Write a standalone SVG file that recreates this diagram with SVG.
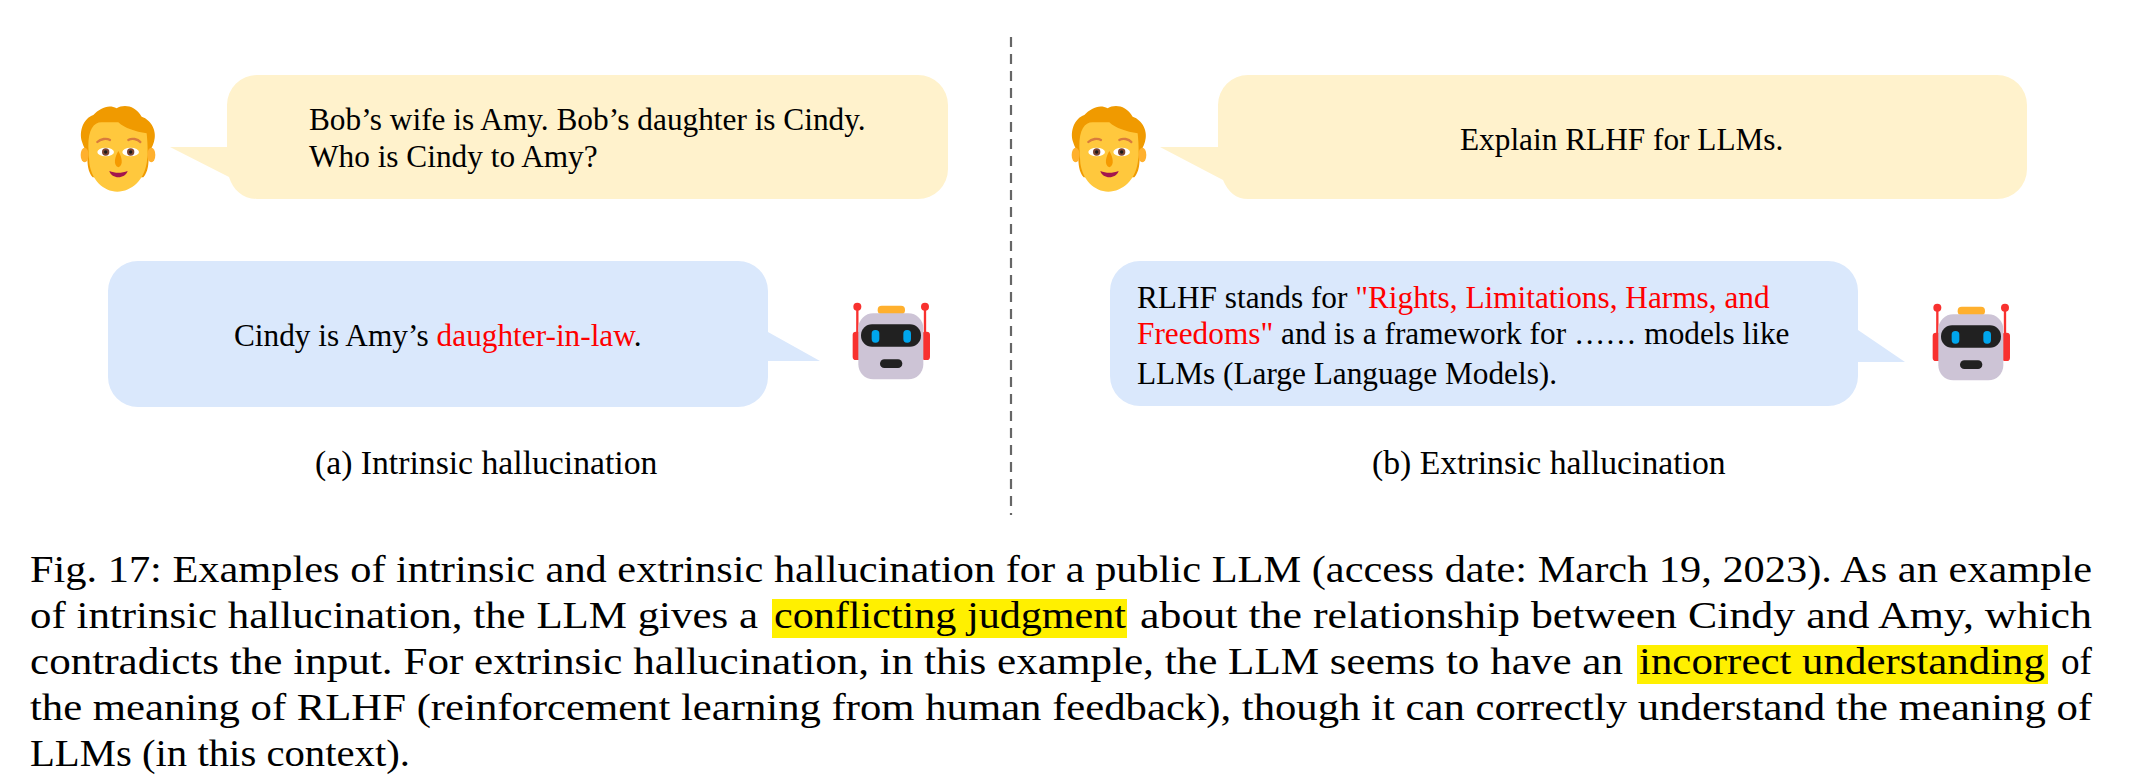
<svg xmlns="http://www.w3.org/2000/svg" xmlns:xlink="http://www.w3.org/1999/xlink" width="2140" height="783" viewBox="0 0 2140 783">
<style>
text{font-family:"Liberation Serif","Times New Roman",serif;fill:#000}
.t{font-size:31.3px}
.k{font-size:33.7px}
.c{font-size:38px}
.r{fill:#f00}
.y{fill:#FFF2CC}
.b{fill:#DAE8FC}
.hl{fill:#FFF000}
.red{fill:#F8312F}
.dk{fill:#212121}
.div{stroke:#666;stroke-width:2.2;stroke-dasharray:10 7;fill:none}
</style>
<defs>
<g id="person" transform="scale(0.3333)">
<path d="M100 75C120 55 145 42 170 55C190 42 225 45 245 80C275 90 292 125 282 155C278 170 270 180 266 195C266 225 264 245 250 262L98 262C84 245 82 225 82 195C78 180 70 170 66 155C56 125 70 85 100 75Z" fill="#F09A00"/>
<ellipse cx="74" cy="195" rx="12" ry="22" fill="#FFB02E"/><ellipse cx="274" cy="195" rx="12" ry="22" fill="#FFB02E"/>
<path d="M85 170C85 120 100 97 125 97L175 97C195 115 225 125 260 130C264 170 264 200 260 220C252 270 215 305 172 305C130 305 95 270 88 220Z" fill="#FFC83D"/>
<path d="M112 156C122 146 140 144 150 150M205 150C215 144 233 146 241 156" fill="none" stroke="#D97B3C" stroke-width="7" stroke-linecap="round"/>
<ellipse cx="137" cy="186" rx="25" ry="13" fill="#fff"/><ellipse cx="212" cy="186" rx="25" ry="13" fill="#fff"/>
<circle cx="137" cy="186" r="11" fill="#7D4533"/><circle cx="212" cy="186" r="11" fill="#7D4533"/>
<circle cx="137" cy="186" r="5" fill="#1C1C1C"/><circle cx="212" cy="186" r="5" fill="#1C1C1C"/>
<path d="M175 183C185 200 192 225 175 232C158 225 165 200 175 183Z" fill="#F59A00"/>
<path d="M148 243C165 250 185 250 203 243C195 268 155 268 148 243Z" fill="#A3154E"/>
</g>
<g id="robot" transform="scale(0.3333)">
<path d="M52 50V130M255 50V130" stroke="#F8312F" stroke-width="7" fill="none"/>
<circle class="red" cx="52" cy="50" r="12"/><circle class="red" cx="255" cy="50" r="12"/>
<rect class="red" x="38" y="125" width="24" height="85" rx="10"/><rect class="red" x="246" y="125" width="24" height="85" rx="10"/>
<rect x="113" y="47" width="82" height="26" rx="12" fill="#FFB02E"/>
<rect x="55" y="70" width="195" height="198" rx="45" fill="#CDC4D6"/>
<rect class="dk" x="63" y="103" width="180" height="67" rx="33"/>
<rect x="95" y="120" width="23" height="38" rx="11" fill="#00A6ED"/><rect x="190" y="120" width="23" height="38" rx="11" fill="#00A6ED"/>
<rect class="dk" x="120" y="208" width="67" height="26" rx="13"/>
</g>
</defs>
<g id="connectors"><path class="div" d="M1011 37V515"/></g>
<g id="user-a">
<path class="y" d="M257 75H918a30 30 0 0 1 30 30V169a30 30 0 0 1-30 30H257C243 199 233 190 229 177L170 147H227V105a30 30 0 0 1 30-30Z"/>
<use xlink:href="#person" href="#person" transform="translate(60 90)"/>
<text class="t" x="309" y="130">Bob’s wife is Amy. Bob’s daughter is Cindy.</text>
<text class="t" x="309" y="167">Who is Cindy to Amy?</text>
</g>
<g id="llm-a">
<path class="b" d="M138 261H738a30 30 0 0 1 30 30V332L820 361H768V377a30 30 0 0 1-30 30H138a30 30 0 0 1-30-30V291a30 30 0 0 1 30-30Z"/>
<use xlink:href="#robot" href="#robot" transform="translate(840 290)"/>
<text class="t" x="234" y="346">Cindy is Amy’s <tspan class="r">daughter-in-law</tspan>.</text>
</g>
<g id="caption-a"><text class="k" x="315" y="474">(a) Intrinsic hallucination</text></g>
<g id="user-b">
<path class="y" d="M1248 75H1997a30 30 0 0 1 30 30V169a30 30 0 0 1-30 30H1248C1236 199 1228 192 1223 180L1160 147H1218V105a30 30 0 0 1 30-30Z"/>
<use xlink:href="#person" href="#person" transform="translate(1051 90)"/>
<text class="t" x="1460" y="150">Explain RLHF for LLMs.</text>
</g>
<g id="llm-b">
<path class="b" d="M1140 261H1828a30 30 0 0 1 30 30V330L1905 362H1858V376a30 30 0 0 1-30 30H1140a30 30 0 0 1-30-30V291a30 30 0 0 1 30-30Z"/>
<use xlink:href="#robot" href="#robot" transform="translate(1920 291)"/>
<text class="t" x="1137" y="308">RLHF stands for <tspan class="r">"Rights, Limitations, Harms, and</tspan></text>
<text class="t" x="1137" y="344"><tspan class="r">Freedoms"</tspan> and is a framework for …… models like</text>
<text class="t" x="1137" y="384">LLMs (Large Language Models).</text>
</g>
<g id="caption-b"><text class="k" x="1372" y="474">(b) Extrinsic hallucination</text></g>
<g id="figure-caption">
<rect class="hl" x="772" y="599" width="355" height="39"/>
<rect class="hl" x="1637" y="645" width="411" height="39"/>
<text class="c" y="582" x="30" textLength="2062" lengthAdjust="spacingAndGlyphs">Fig. 17: Examples of intrinsic and extrinsic hallucination for a public LLM (access date: March 19, 2023). As an example</text>
<text class="c" y="628"><tspan x="30" textLength="728" lengthAdjust="spacingAndGlyphs">of intrinsic hallucination, the LLM gives a</tspan><tspan x="774" textLength="352" lengthAdjust="spacingAndGlyphs">conflicting judgment</tspan><tspan x="1140" textLength="952" lengthAdjust="spacingAndGlyphs">about the relationship between Cindy and Amy, which</tspan></text>
<text class="c" y="674"><tspan x="30" textLength="1593" lengthAdjust="spacingAndGlyphs">contradicts the input. For extrinsic hallucination, in this example, the LLM seems to have an</tspan><tspan x="1639" textLength="406" lengthAdjust="spacingAndGlyphs">incorrect understanding</tspan><tspan x="2061" textLength="31" lengthAdjust="spacingAndGlyphs">of</tspan></text>
<text class="c" y="720" x="30" textLength="2062" lengthAdjust="spacingAndGlyphs">the meaning of RLHF (reinforcement learning from human feedback), though it can correctly understand the meaning of</text>
<text class="c" y="766" x="30" textLength="380" lengthAdjust="spacingAndGlyphs">LLMs (in this context).</text>
</g>
</svg>
